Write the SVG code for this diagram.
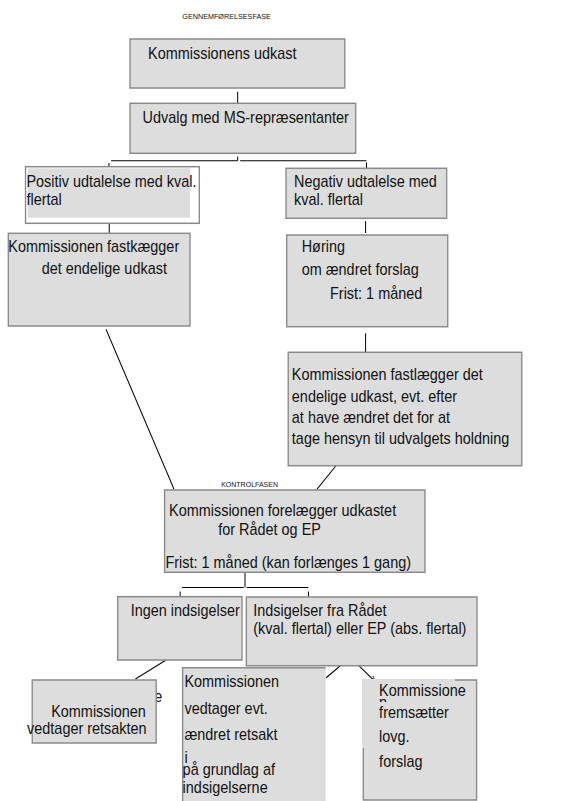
<svg xmlns="http://www.w3.org/2000/svg" width="579" height="801" viewBox="0 0 579 801">
<style>
text{font-family:"Liberation Sans",Arial,sans-serif;font-size:16px;fill:#111}
.small{font-size:7px}
.box{fill:#dddddd;stroke:#8a8a8a;stroke-width:1.5}
.fill{fill:#dddddd;stroke:none}
.edge{fill:none;stroke:#8a8a8a;stroke-width:1.5}
.con{fill:none;stroke:#000;stroke-width:1.1}
</style>
<defs>
<marker id="arr" viewBox="0 0 10 10" refX="9" refY="5" markerWidth="6" markerHeight="6" orient="auto">
<path d="M1,1 L9,5 L1,9" fill="none" stroke="#000" stroke-width="1.2"/>
</marker>
</defs>
<rect width="579" height="801" fill="#fff"/>
<g transform="scale(0.9027,1)">
<text class="small" x="202" y="19.3" textLength="98" lengthAdjust="spacingAndGlyphs">GENNEMFØRELSESFASE</text>
<text class="small" x="245" y="487.5" textLength="63" lengthAdjust="spacingAndGlyphs">KONTROLFASEN</text>

<g id="connectors">
<path class="con" d="M263.3 91.7V103"/>
<path class="con" d="M263.3 156.5V160.7M123 160.7H263M266 160.7H406M120.7 163V167M406 162.5V168"/>
<path class="con" d="M121 221V233.3"/>
<path class="con" d="M405 221V233"/>
<path class="con" d="M405 333.3V352.3"/>
<path class="con" d="M117.4 329.3L192.8 489.3"/>
<path class="con" d="M372 466L351 489.3"/>
<path class="con" d="M271.4 573V587.5M201.7 587.5H270M273.3 587.5H341.7M199.5 591.5V596.5M341.7 591.5V597"/>
<path class="con" d="M184 660L150 679"/>
<path class="con" d="M377 665.7L361 678"/>
<path class="con" d="M397.5 665.7L415.5 681.5" marker-end="url(#arr)"/>
</g>

<g id="n1">
<rect class="box" x="144" y="39" width="238" height="49"/>
<text x="164" y="59.5">Kommissionens udkast</text>
</g>
<g id="n2">
<rect class="box" x="144" y="103.3" width="250" height="50"/>
<text x="158" y="122.7">Udvalg med MS-repræsentanter</text>
</g>
<g id="n3">
<rect x="28.3" y="166.7" width="192.5" height="56.6" fill="#fff" stroke="#8a8a8a" stroke-width="1.5"/>
<rect class="fill" x="30.7" y="168.3" width="179.8" height="49.4"/>
<text x="29.3" y="187.5">Positiv udtalelse med kval.</text>
<text x="29.3" y="205">flertal</text>
</g>
<g id="n4">
<rect class="box" x="316.8" y="168.3" width="178" height="50"/>
<text x="325.7" y="187">Negativ udtalelse med</text>
<text x="325.7" y="205">kval. flertal</text>
</g>
<g id="n5">
<rect class="box" x="9.2" y="233.3" width="201.3" height="92.7"/>
<text x="9.2" y="251.7">Kommissionen fastkægger</text>
<text x="46.2" y="274">det endelige udkast</text>
</g>
<g id="n6">
<rect class="box" x="317.6" y="235" width="178.4" height="91.7"/>
<text x="334.2" y="251.7">Høring</text>
<text x="334.2" y="275">om ændret forslag</text>
<text x="365.6" y="299">Frist: 1 måned</text>
</g>
<g id="n7">
<rect class="box" x="319.3" y="352.3" width="258.7" height="113.4"/>
<text x="323.3" y="380">Kommissionen fastlægger det</text>
<text x="323.3" y="401.7">endelige udkast, evt. efter</text>
<text x="323.3" y="423">at have ændret det for at</text>
<text x="323.3" y="444.5">tage hensyn til udvalgets holdning</text>
</g>
<g id="n8">
<rect class="box" x="182.3" y="490" width="288.5" height="82.3"/>
<text x="187.3" y="515.7">Kommissionen forelægger udkastet</text>
<text x="241.7" y="535">for Rådet og EP</text>
<text x="183.3" y="568.3">Frist: 1 måned (kan forlænges 1 gang)</text>
</g>
<g id="n9">
<rect class="box" x="130.4" y="596.7" width="137.7" height="63.3"/>
<text x="144.8" y="615.7">Ingen indsigelser</text>
</g>
<g id="n10">
<rect class="box" x="272.9" y="597" width="255.5" height="68.7"/>
<text x="280.6" y="615.7">Indsigelser fra Rådet</text>
<text x="280.6" y="634">(kval. flertal) eller EP (abs. flertal)</text>
</g>
<g id="n11">
<text x="171" y="702">e</text>
<rect class="box" x="35.7" y="680" width="137.3" height="63"/>
<text x="56.7" y="716.7">Kommissionen</text>
<text x="30" y="734.5">vedtager retsakten</text>
</g>
<g id="n12">
<rect class="fill" x="202.3" y="667.8" width="158.5" height="134"/>
<path class="edge" d="M202.3 801V667.8H360.8"/>
<text x="204.3" y="686.7">Kommissionen</text>
<text x="204.3" y="714">vedtager evt.</text>
<text x="204.3" y="740">ændret retsakt</text>
<text x="204.3" y="763.3">i</text>
<text x="202.3" y="775">på grundlag af</text>
<text x="202.3" y="793.3">indsigelserne</text>
</g>
<g id="n13">
<rect class="box" x="402.5" y="680" width="125.5" height="120"/>
<rect class="fill" x="401.5" y="679" width="102.5" height="69"/>
<text x="420" y="695.7">Kommissione</text>
<text x="420" y="708">n</text>
<rect class="fill" x="418" y="702" width="12" height="8"/>
<text x="420" y="718.5">fremsætter</text>
<text x="420" y="742.3">lovg.</text>
<text x="420" y="766.7">forslag</text>
</g>
</g>
</svg>
